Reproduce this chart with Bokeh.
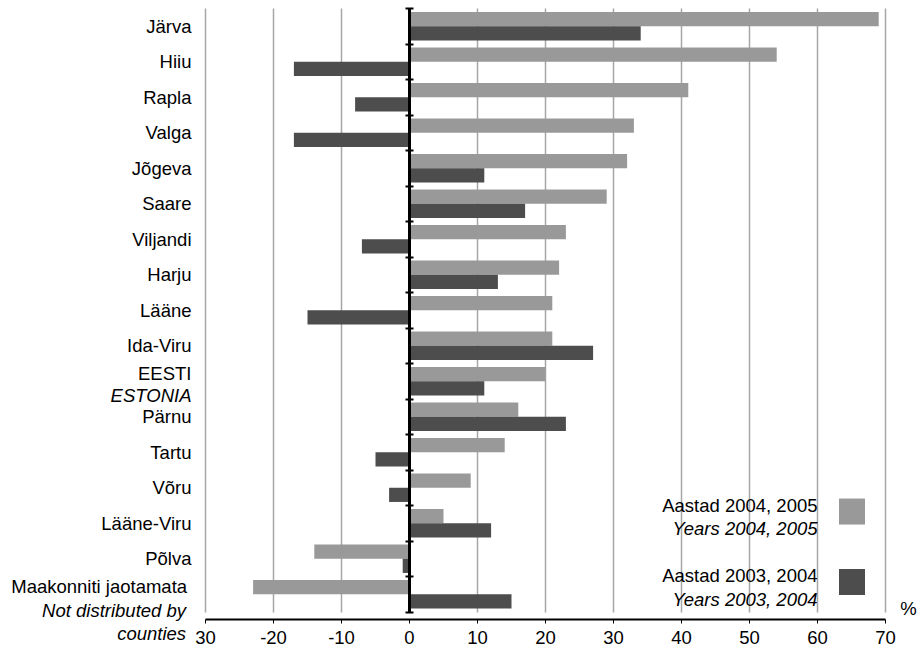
from bokeh.plotting import figure
from bokeh.models import Range1d, FixedTicker, LinearAxis
from bokeh.embed import file_html
from bokeh.resources import INLINE
from bokeh.core.properties import value

# ---- data ----
categories = ["Järva", "Hiiu", "Rapla", "Valga", "Jõgeva", "Saare", "Viljandi",
              "Harju", "Lääne", "Ida-Viru", "EESTI", "Pärnu", "Tartu", "Võru",
              "Lääne-Viru", "Põlva", "Maakonniti jaotamata"]
categories_en = {"EESTI": ["ESTONIA"],
                 "Maakonniti jaotamata": ["Not distributed by", "counties"]}
years_2004_2005 = [69, 54, 41, 33, 32, 29, 23, 22, 21, 21, 20, 16, 14, 9, 5, -14, -23]
years_2003_2004 = [34, -17, -8, -17, 11, 17, -7, 13, -15, 27, 11, 23, -5, -3, 12, -1, 15]
series_et = ["Aastad 2004, 2005", "Aastad 2003, 2004"]
series_en = ["Years 2004, 2005", "Years 2003, 2004"]
x_ticks = [-30, -20, -10, 0, 10, 20, 30, 40, 50, 60, 70]
x_tick_labels = ["30", "-20", "-10", "0", "10", "20", "30", "40", "50", "60", "70"]
unit_label = "%"

# ---- styles / layout ----
FONT = "Liberation Sans"
FS = "18.5px"
LIGHT = "#999999"
DARK = "#4d4d4d"
GRID = "#a6a6a6"
n = len(categories)
AXIS_Y = -0.21          # where the value axis crosses, below the last category

p = figure(frame_width=917, frame_height=648,
           x_range=Range1d(-60.147, 74.706), y_range=Range1d(-1.028, 17.2254),
           y_axis_location=None, output_backend="svg", toolbar_location=None,
           min_border_left=0, min_border_right=0, min_border_top=0,
           min_border_bottom=0)
p.outline_line_color = None
p.background_fill_color = "white"
p.border_fill_color = "white"
p.ygrid.visible = False

centers = [n - i - 0.5 for i in range(n)]
p.hbar(y=[c + 0.2 for c in centers], height=0.4, left=0, right=years_2004_2005,
       fill_color=LIGHT, line_color=None)
p.hbar(y=[c - 0.2 for c in centers], height=0.4, left=0, right=years_2003_2004,
       fill_color=DARK, line_color=None)

# x axis (value axis)
xa = p.xaxis[0]
xa.fixed_location = AXIS_Y
xa.ticker = FixedTicker(ticks=x_ticks)
xa.major_label_overrides = dict(zip(x_ticks, x_tick_labels))
xa.bounds = (x_ticks[0], x_ticks[-1])
xa.axis_line_color = "black"
xa.axis_line_width = 2
xa.major_tick_in = 0
xa.major_tick_out = 4
xa.major_tick_line_color = "black"
xa.minor_tick_out = 0
xa.minor_tick_in = 0
xa.major_label_standoff = 8
xa.major_label_text_font = FONT
xa.major_label_text_font_size = FS
xa.major_label_text_color = "black"

# vertical grid lines, limited to the category area
grid = p.xgrid[0]
grid.ticker = FixedTicker(ticks=x_ticks)
grid.grid_line_color = GRID
grid.grid_line_width = 1.5
try:
    grid.cross_bounds = (0, n)
except AttributeError:
    grid.visible = False
    p.segment(x0=x_ticks, y0=[0] * len(x_ticks), x1=x_ticks, y1=[n] * len(x_ticks),
              line_color=GRID, line_width=1.5, level="underlay")

# category axis drawn at x = 0
ya = LinearAxis(fixed_location=0, ticker=FixedTicker(ticks=list(range(n + 1))),
                bounds=(0, n), axis_line_width=3, axis_line_color="black",
                major_tick_in=4, major_tick_out=4, major_tick_line_width=2,
                major_tick_line_color="black", minor_tick_in=0, minor_tick_out=0,
                major_label_text_color=None, major_label_text_font_size="0px",
                major_label_standoff=0)
p.add_layout(ya, "left")

# category labels (regular and italic lines)
LABEL_X = -32.06
LABEL_SHIFT = {"Maakonniti jaotamata": -0.65}
reg_x, reg_y, reg_text, it_x, it_y, it_text = [], [], [], [], [], []
for c, name in zip(centers, categories):
    extra = categories_en.get(name)
    lx = LABEL_X + LABEL_SHIFT.get(name, 0)
    reg_x.append(lx); reg_text.append(name)
    if extra is None:
        reg_y.append(c)
    else:
        reg_y.append(c + 0.21)
        first = 0.39 if len(extra) == 1 else 0.46
        for k, t in enumerate(extra):
            it_x.append(lx - (0.15 if len(extra) > 1 else 0))
            it_y.append(c - first - 0.65 * k); it_text.append(t)

p.text(x=reg_x, y=reg_y, text=reg_text, text_align="right",
       text_baseline="middle", text_font=value(FONT), text_font_size=FS,
       text_color="black")
p.text(x=it_x, y=it_y, text=it_text, text_align="right",
       text_baseline="middle", text_font=value(FONT), text_font_size=FS,
       text_font_style="italic", text_color="black")

# legend (text, then swatch to the right)
LEG_TEXT_X = 60
LEG_SW_X = 65.07
leg_y = [2.83, 0.845]
p.scatter(x=[LEG_SW_X] * 2, y=leg_y, marker="square", size=26,
          fill_color=[LIGHT, DARK], line_color=None)
p.text(x=[LEG_TEXT_X] * 2, y=[yy + 0.17 for yy in leg_y], text=series_et,
       text_align="right", text_baseline="middle", text_font=value(FONT),
       text_font_size=FS, text_color="black")
p.text(x=[LEG_TEXT_X] * 2, y=[yy - 0.49 for yy in leg_y], text=series_en,
       text_align="right", text_baseline="middle", text_font=value(FONT),
       text_font_size=FS, text_font_style="italic", text_color="black")

p.text(x=[73.37], y=[0.1], text=[unit_label], text_align="center",
       text_baseline="middle", text_font=value(FONT), text_font_size=FS,
       text_color="black")

open("out.html", "w").write(file_html(p, INLINE))
